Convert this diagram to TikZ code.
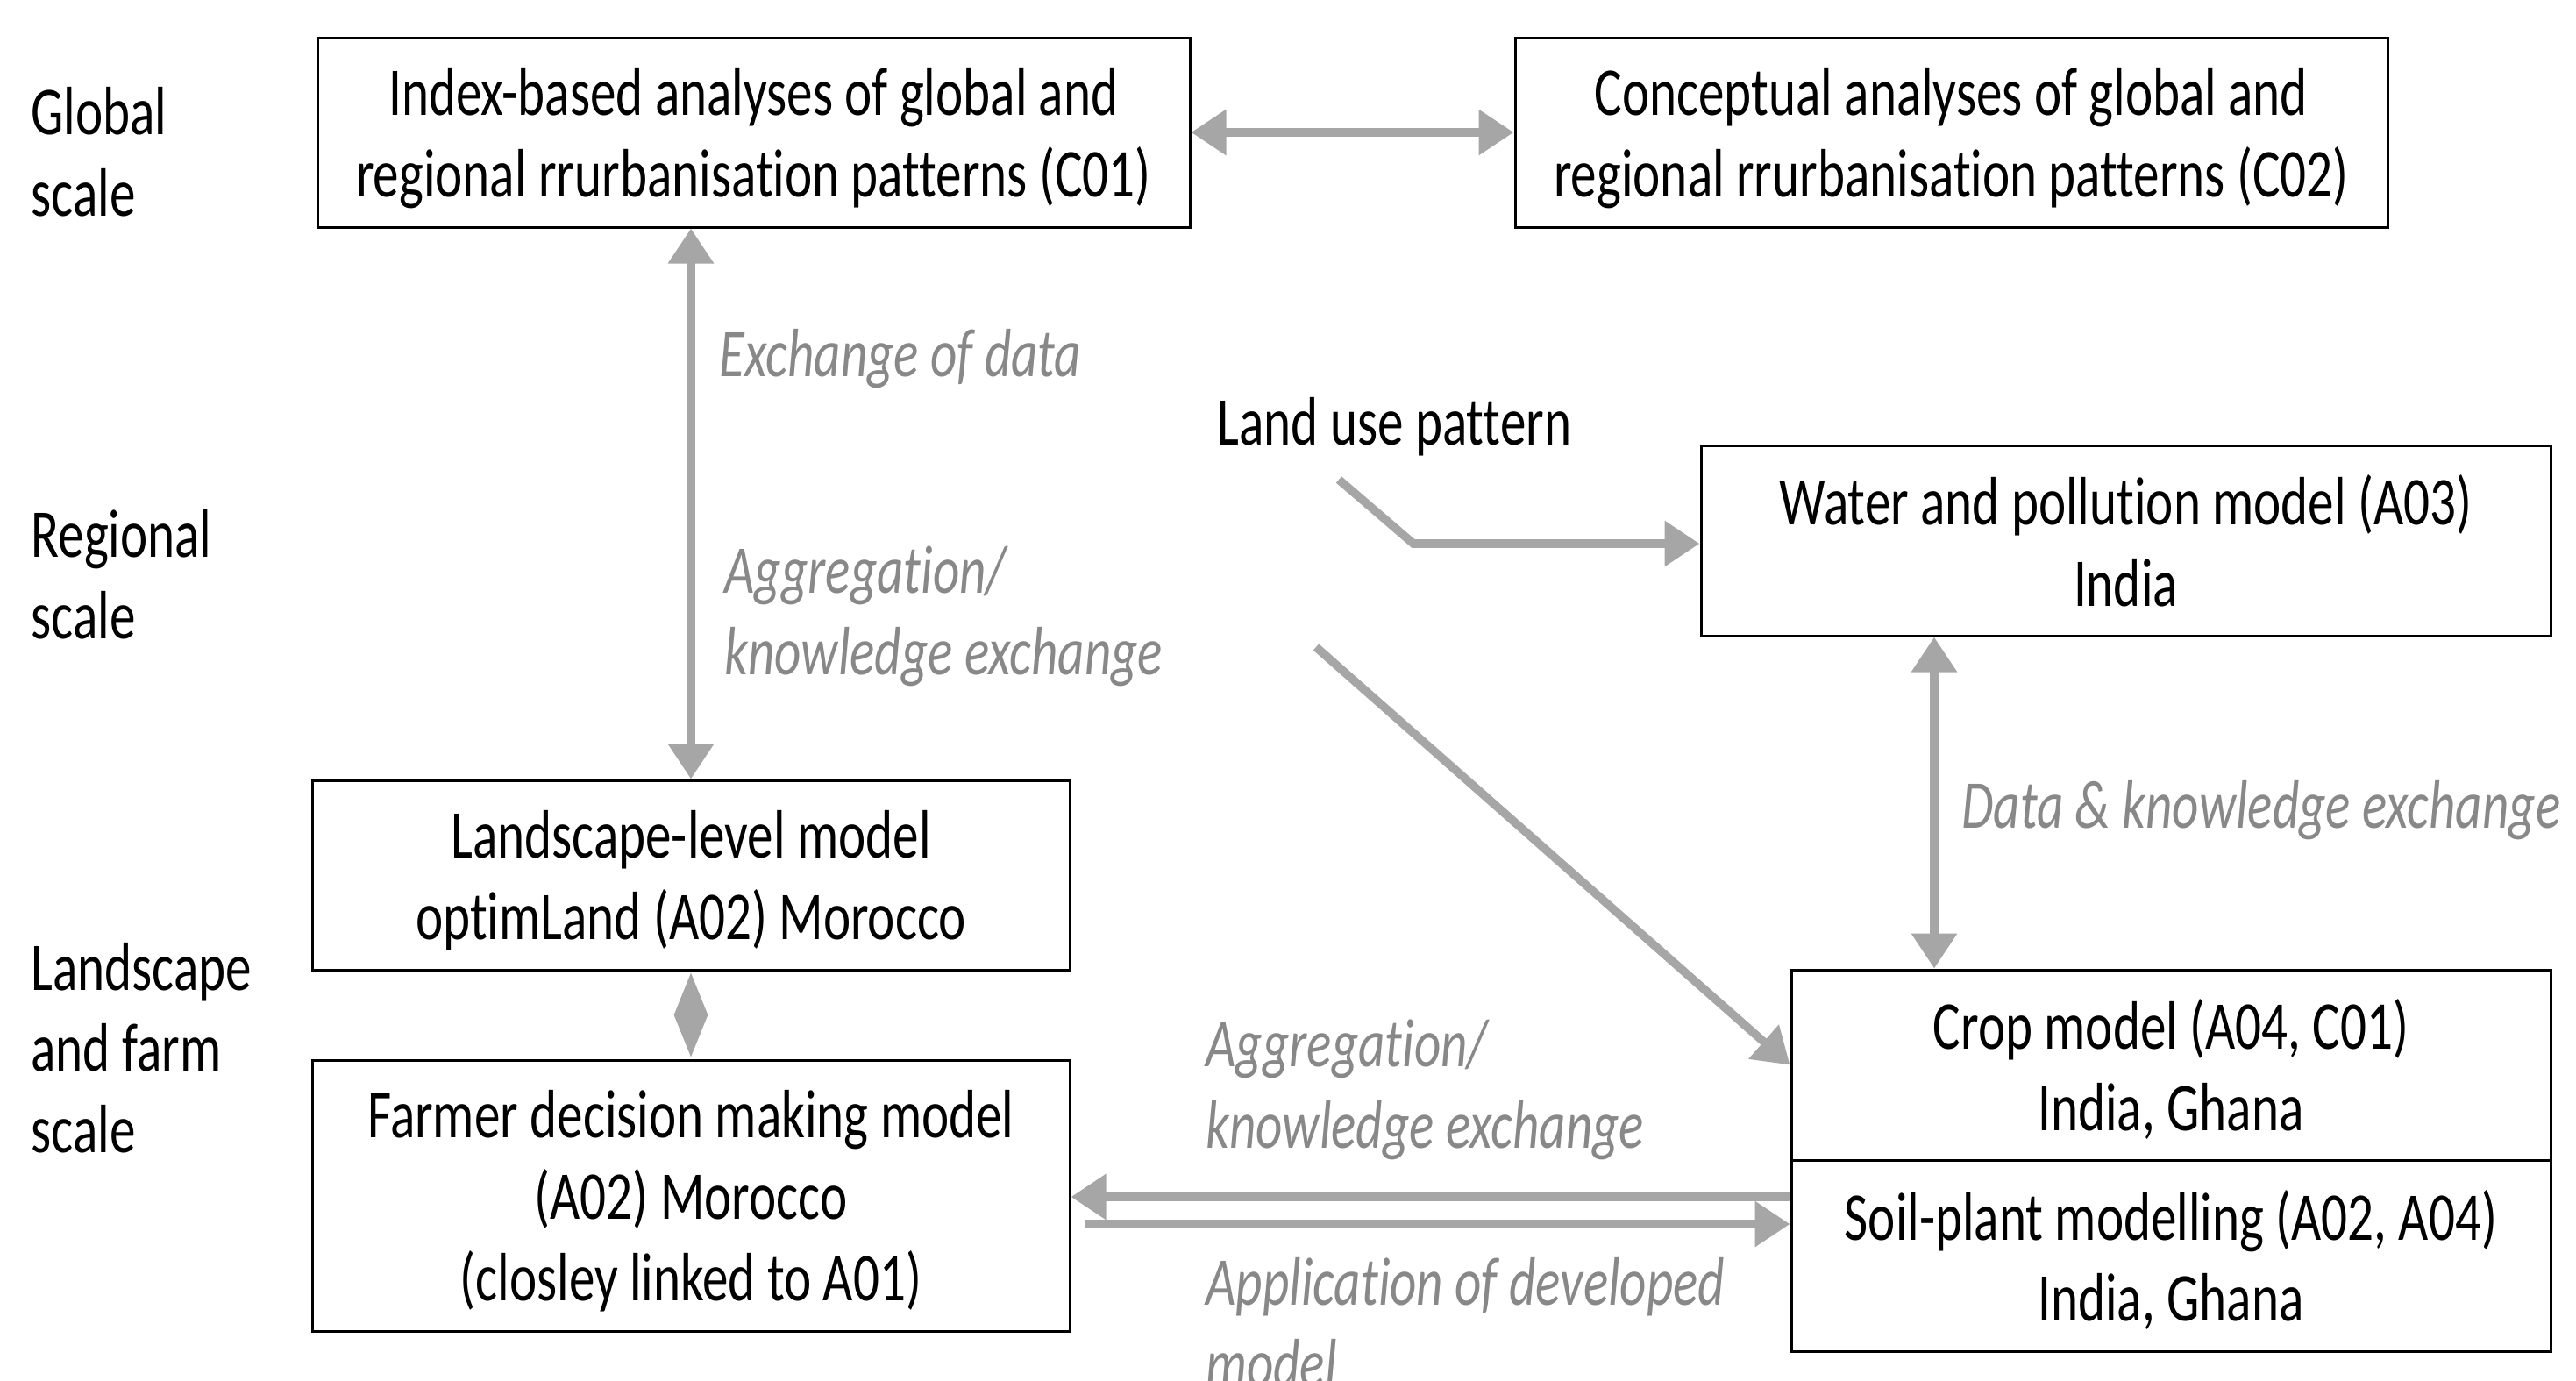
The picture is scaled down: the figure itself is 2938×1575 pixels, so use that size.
\documentclass[tikz,border=0pt]{standalone}
\usepackage{fontspec}
\setmainfont[FakeStretch=0.758,Ligatures=NoCommon]{Carlito}
\usetikzlibrary{arrows.meta,shapes.geometric}
\definecolor{arrowgray}{HTML}{A6A6A6}
\definecolor{labelgray}{HTML}{888888}
\tikzset{every picture/.style={line width=0.75pt}}
\tikzset{
  bigtext/.style={font=\fontsize{19.5}{23.2}\selectfont},
  modelbox/.style={draw, bigtext, align=center, inner sep=0pt, text depth=0pt},
  scalelabel/.style={bigtext, anchor=west, align=left, inner sep=0pt},
  flowlabel/.style={font=\fontsize{19.5}{23.2}\selectfont\itshape, text=labelgray, anchor=west, align=left, inner sep=0pt},
  grayarrow/.style={draw=arrowgray, line width=2.4pt, -{Triangle[length=10pt,width=12.5pt]}},
  twoway/.style={grayarrow, {Triangle[length=10pt,width=12.5pt]}-{Triangle[length=10pt,width=12.5pt]}}
}

\begin{document}
\begin{tikzpicture}[x=0.25pt,y=0.25pt,yscale=-1,xscale=1]
\useasboundingbox (0,0) rectangle (2938,1575);

% Boxes
\node [modelbox, minimum width=248.75pt, minimum height=54pt] (c01) at (859.5,151) {Index-based analyses of global and\\regional rrurbanisation patterns (C01)};
\node [modelbox, minimum width=248.75pt, minimum height=54pt] (c02) at (2225.5,151) {Conceptual analyses of global and\\regional rrurbanisation patterns (C02)};
\node [modelbox, minimum width=242.25pt, minimum height=54.25pt] (water) at (2424.5,616.5) {Water and pollution model (A03)\\India};
\node [modelbox, minimum width=216pt, minimum height=54pt] (landscape) at (788,998) {Landscape-level model\\optimLand (A02) Morocco};
\node [modelbox, minimum width=216pt, minimum height=77.25pt] (farmer) at (788,1363.5) {Farmer decision making model\\(A02) Morocco\\(closley linked to A01)};
\node [modelbox, minimum width=216.5pt, minimum height=54.25pt] (crop) at (2476,1214.5) {Crop model (A04, C01)\\India, Ghana};
\node [modelbox, minimum width=216.5pt, minimum height=54.5pt] (soil) at (2476,1432) {Soil-plant modelling (A02, A04)\\India, Ghana};

% Text Node
\node [scalelabel] (global) at (34,173) {Global\\scale};
\node [scalelabel] (regional) at (34,655) {Regional\\scale};
\node [scalelabel] (landfarm) at (34,1195) {Landscape\\and farm\\scale};
\node [scalelabel] (landuse) at (1387,487) {Land use pattern};
\node [flowlabel] (exdata) at (819,409) {Exchange of data};
\node [flowlabel] (aggup) at (825,703) {Aggregation/\\knowledge exchange};
\node [flowlabel] (dataex) at (2236,924) {Data \& knowledge exchange};
\node [flowlabel] (agglow) at (1374,1243) {Aggregation/\\knowledge exchange};
\node [flowlabel] (appl) at (1374,1508) {Application of developed\\model};

\coordinate (lustart) at (1527,547);
\coordinate (lubend) at (1612,620);
\coordinate (diagstart) at (1501,738);
\coordinate (wcx) at (2206,0);

% Connection
\draw [twoway] (c01.east) -- (c02.west);
\draw [twoway] (landscape.north |- c01.south) -- (landscape.north);
\draw [twoway] (wcx |- water.south) -- (wcx |- crop.north);
\draw [grayarrow] (lustart) -- (lubend) -- (lubend -| water.west);
\draw [grayarrow] (diagstart) -- (crop.west);
\draw [grayarrow] (soil.west |- 0,1365) -- (farmer.east |- 0,1365);
\draw [grayarrow] (1237,1396) -- (soil.west |- 0,1396);
\path (landscape.south) -- (farmer.north) node [midway, diamond, fill=arrowgray, inner sep=0pt, minimum width=10pt, minimum height=24.25pt] (link) {};

\end{tikzpicture}
\end{document}
